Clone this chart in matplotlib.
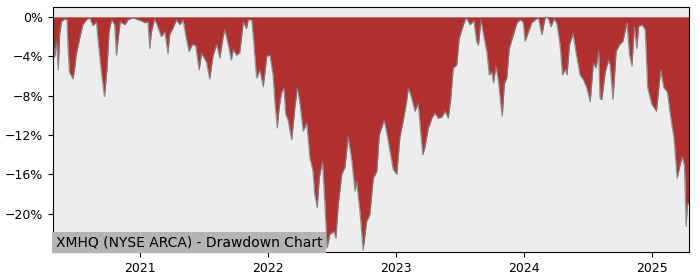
#!/usr/bin/env python3
"""Drawdown chart for XMHQ (NYSE ARCA), Apr 2020 - Apr 2025.

Writes out.png (700x280).
"""

import matplotlib

matplotlib.use("Agg")
import matplotlib.dates as mdates
import matplotlib.pyplot as plt
import pandas as pd
from matplotlib.ticker import MultipleLocator, PercentFormatter

TITLE = "XMHQ (NYSE ARCA) - Drawdown Chart"

# Drawdown from running peak, in percent.
DATES = [
    "2020-04-27", "2020-05-02", "2020-05-07", "2020-05-12", "2020-05-16",
    "2020-05-21", "2020-05-31", "2020-06-06", "2020-06-09", "2020-06-13",
    "2020-06-23", "2020-06-28", "2020-07-02", "2020-07-12", "2020-07-21",
    "2020-07-31", "2020-08-10", "2020-08-19", "2020-08-29", "2020-09-02",
    "2020-09-12", "2020-09-21", "2020-09-28", "2020-10-04", "2020-10-11",
    "2020-10-20", "2020-10-25", "2020-10-30", "2020-11-05", "2020-11-18",
    "2020-11-27", "2020-12-11", "2020-12-26",
    "2021-01-04", "2021-01-14", "2021-01-23", "2021-01-28", "2021-02-02",
    "2021-02-11", "2021-02-21", "2021-03-02", "2021-03-12", "2021-03-21",
    "2021-03-26", "2021-04-05", "2021-04-14", "2021-04-24", "2021-05-03",
    "2021-05-11", "2021-05-20", "2021-05-30", "2021-06-08", "2021-06-18",
    "2021-06-25", "2021-07-01", "2021-07-09", "2021-07-18", "2021-07-28",
    "2021-08-07", "2021-08-16", "2021-08-25", "2021-08-30", "2021-09-09",
    "2021-09-18", "2021-09-23", "2021-10-03", "2021-10-12", "2021-10-22",
    "2021-10-31", "2021-11-05", "2021-11-15", "2021-11-19", "2021-11-29",
    "2021-12-08", "2021-12-18", "2021-12-28",
    "2022-01-06", "2022-01-15", "2022-01-20", "2022-01-27", "2022-02-01",
    "2022-02-08", "2022-02-15", "2022-02-20", "2022-02-27", "2022-03-09",
    "2022-03-18", "2022-03-25", "2022-04-01", "2022-04-11", "2022-04-21",
    "2022-04-25", "2022-04-30", "2022-05-09", "2022-05-14", "2022-05-21",
    "2022-05-27", "2022-06-05", "2022-06-12", "2022-06-18", "2022-06-26",
    "2022-07-08", "2022-07-13", "2022-07-20", "2022-07-30", "2022-08-08",
    "2022-08-17", "2022-08-27", "2022-09-06", "2022-09-10", "2022-09-20",
    "2022-09-29", "2022-10-09", "2022-10-18", "2022-10-28", "2022-11-07",
    "2022-11-14", "2022-11-28", "2022-12-05", "2022-12-15", "2022-12-24",
    "2023-01-03", "2023-01-12", "2023-01-21", "2023-01-31", "2023-02-05",
    "2023-02-14", "2023-02-24", "2023-03-05", "2023-03-12", "2023-03-18",
    "2023-03-24", "2023-04-03", "2023-04-13", "2023-04-22", "2023-05-01",
    "2023-05-11", "2023-05-21", "2023-05-30", "2023-06-06", "2023-06-13",
    "2023-06-23", "2023-06-30", "2023-07-12", "2023-07-20", "2023-07-31",
    "2023-08-11", "2023-08-19", "2023-08-24", "2023-08-31", "2023-09-07",
    "2023-09-17", "2023-09-24", "2023-10-01", "2023-10-06", "2023-10-13",
    "2023-10-20", "2023-10-27", "2023-10-31", "2023-11-06", "2023-11-13",
    "2023-11-20", "2023-12-02", "2023-12-12", "2023-12-21", "2023-12-30",
    "2024-01-04", "2024-01-14", "2024-01-23", "2024-02-02", "2024-02-11",
    "2024-02-21", "2024-03-02", "2024-03-11", "2024-03-18", "2024-03-27",
    "2024-04-04", "2024-04-13", "2024-04-20", "2024-04-28", "2024-05-03",
    "2024-05-10", "2024-05-20", "2024-05-30", "2024-06-09", "2024-06-19",
    "2024-06-28", "2024-07-08", "2024-07-17", "2024-07-25", "2024-08-01",
    "2024-08-05", "2024-08-10", "2024-08-20", "2024-08-29", "2024-09-03",
    "2024-09-11", "2024-09-20", "2024-09-30", "2024-10-09", "2024-10-21",
    "2024-10-28", "2024-11-04", "2024-11-11", "2024-11-18", "2024-11-23",
    "2024-12-03", "2024-12-12", "2024-12-19", "2024-12-31",
    "2025-01-13", "2025-01-25", "2025-02-03", "2025-02-13", "2025-02-22",
    "2025-03-04", "2025-03-13", "2025-03-21", "2025-03-28", "2025-04-03",
    "2025-04-07", "2025-04-08", "2025-04-11", "2025-04-16",
]
DRAWDOWN = [
    -2.5, -4.1, -2.5, -5.4, -1.8,
    -0.5, -0.2, -0.3, -3.2, -5.6,
    -6.3, -5.2, -3.9, -2.2, -0.8,
    -0.3, -0.1, -0.9, -0.5, -2.2,
    -5.6, -8.1, -5.3, -1.5, -0.3,
    -0.8, -3.9, -2.2, -0.5, -0.8,
    -0.3, -0.1, -0.3,
    -0.4, -0.6, -0.5, -3.2, -1.5,
    -0.2, -1.1, -2.0, -1.5, -3.7,
    -1.8, -1.1, -0.3, -0.8, -0.3,
    -1.9, -3.5, -2.8, -2.9, -5.4,
    -3.7, -4.1, -4.6, -6.3, -3.9,
    -2.8, -4.2, -2.1, -1.3, -2.8,
    -4.4, -3.3, -3.9, -3.6, -0.5,
    -1.2, -0.3, -0.3, -1.8, -6.2,
    -5.4, -7.1, -4.0,
    -3.9, -5.9, -8.6, -11.3, -9.3,
    -7.7, -7.2, -9.9, -10.5, -12.5,
    -9.3, -7.2, -8.6, -11.6, -10.8,
    -12.3, -14.3, -15.7, -18.1, -19.4,
    -16.3, -14.7, -19.0, -23.5, -22.1,
    -21.8, -22.5, -19.1, -16.0, -15.3,
    -12.2, -14.4, -17.7, -16.7, -19.8,
    -23.7, -20.8, -20.1, -16.4, -15.7,
    -12.0, -10.5, -11.7, -13.7, -15.5,
    -16.0, -12.2, -10.6, -8.6, -7.2,
    -8.2, -9.6, -8.8, -11.6, -14.0,
    -13.3, -11.3, -10.3, -9.8, -10.3,
    -10.2, -9.6, -10.3, -8.3, -5.2,
    -4.9, -2.2, -0.8, -0.1, -0.8,
    -0.4, -2.5, -2.9, -0.3, -1.7,
    -3.5, -5.9, -5.6, -6.7, -5.0,
    -6.5, -8.9, -10.1, -6.8, -6.2,
    -3.2, -1.8, -0.6, -0.3, -0.5,
    -2.5, -1.5, -0.6, -0.3, -0.1,
    -1.8, 0.0, -0.2, -1.0, -0.2,
    -0.7, -2.8, -5.9, -5.3, -5.9,
    -2.8, -1.7, -3.9, -5.9, -6.4,
    -7.2, -8.6, -4.7, -5.2, -3.4,
    -8.3, -8.4, -5.6, -4.4, -4.9,
    -8.4, -3.5, -2.8, -2.5, -0.6,
    -3.8, -5.0, -1.0, -3.2, -1.0,
    -0.8, -1.3, -7.2, -8.9,
    -9.6, -5.4, -7.2, -7.6, -10.0,
    -12.3, -16.4, -15.1, -14.2, -15.1,
    -19.8, -21.3, -19.1, -18.9,
]

FILL = "#b03030"
BG = "#ededed"

dates = pd.to_datetime(DATES)

fig = plt.figure(figsize=(7, 2.8), dpi=100)
ax = fig.add_axes([0.0757, 0.1, 0.9086, 0.875])
ax.set_facecolor(BG)

ax.fill_between(dates, DRAWDOWN, 0, color=FILL, linewidth=0)
ax.plot(dates, DRAWDOWN, color="grey", linewidth=0.9, alpha=0.8)

ax.set_xlim(dates[0], dates[-1])
ax.set_ylim(-23.9, 1.0)
ax.yaxis.set_major_locator(MultipleLocator(4))
ax.yaxis.set_major_formatter(PercentFormatter(xmax=100, decimals=0))
ax.xaxis.set_major_locator(mdates.YearLocator())
ax.xaxis.set_major_formatter(mdates.DateFormatter("%Y"))
ax.tick_params(labelsize=9)

ax.text(
    0.004,
    0.012,
    TITLE,
    transform=ax.transAxes,
    fontsize=10,
    va="bottom",
    ha="left",
    bbox=dict(facecolor="#b4b4b4", edgecolor="none", pad=2.5),
)

fig.savefig("out.png", dpi=100)
